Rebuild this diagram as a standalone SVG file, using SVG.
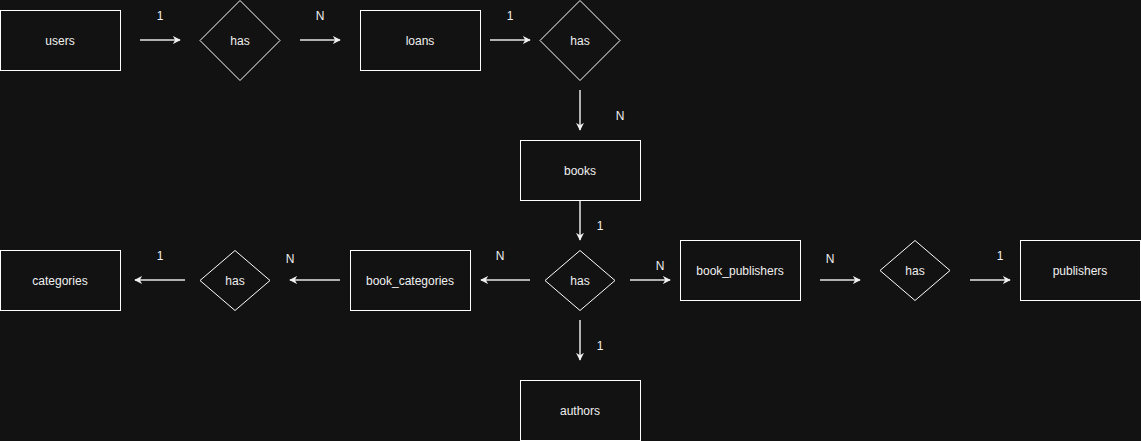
<svg xmlns="http://www.w3.org/2000/svg" width="1141" height="441" viewBox="0 0 1141 441">
<style>
.bg{fill:#121212}
.ent{fill:#121212;stroke:#ffffff;stroke-width:1}
.rel{fill:#121212;stroke:#ffffff;stroke-width:1}
.t{font-family:"Liberation Sans",Arial,sans-serif;font-size:12px;fill:#f0f0f0;text-anchor:middle;dominant-baseline:central}
.c{stroke:#e6e6e6;stroke-width:1.5;fill:none;marker-end:url(#ah)}
</style>
<defs>
<marker id="ah" viewBox="0 0 10 10" refX="9" refY="5" markerWidth="8" markerHeight="8" orient="auto" markerUnits="userSpaceOnUse">
<path d="M0,0 L10,5 L0,10 L3,5 Z" fill="#f0f0f0"/>
</marker>
</defs>
<rect class="bg" x="0" y="0" width="1141" height="441"/>
<g id="connectors">
<line class="c" x1="140" y1="40" x2="180" y2="40"/>
<line class="c" x1="300" y1="40" x2="340" y2="40"/>
<line class="c" x1="490" y1="40" x2="530" y2="40"/>
<line class="c" x1="580" y1="90" x2="580" y2="130"/>
<line class="c" x1="580" y1="200" x2="580" y2="240"/>
<line class="c" x1="530" y1="280" x2="481" y2="280"/>
<line class="c" x1="340" y1="280" x2="290" y2="280"/>
<line class="c" x1="185" y1="280" x2="135" y2="280"/>
<line class="c" x1="630" y1="280" x2="670" y2="280"/>
<line class="c" x1="820" y1="280" x2="860" y2="280"/>
<line class="c" x1="970" y1="280" x2="1010" y2="280"/>
<line class="c" x1="580" y1="320" x2="580" y2="360"/>
<text class="t" x="160" y="16">1</text>
<text class="t" x="320" y="16">N</text>
<text class="t" x="510" y="16">1</text>
<text class="t" x="620" y="116">N</text>
<text class="t" x="600" y="226">1</text>
<text class="t" x="500" y="256">N</text>
<text class="t" x="290" y="259">N</text>
<text class="t" x="160" y="256">1</text>
<text class="t" x="660" y="266">N</text>
<text class="t" x="830" y="259">N</text>
<text class="t" x="1000" y="256">1</text>
<text class="t" x="600" y="346">1</text>
</g>
<g id="users"><rect class="ent" x="0.5" y="10.5" width="120" height="60"/><text class="t" x="60" y="41">users</text></g>
<g id="has1"><polygon class="rel" points="240,0.5 280,40.5 240,80.5 200,40.5"/><text class="t" x="240" y="41">has</text></g>
<g id="loans"><rect class="ent" x="360.5" y="10.5" width="120" height="60"/><text class="t" x="420" y="41">loans</text></g>
<g id="has2"><polygon class="rel" points="580,0.5 620,40.5 580,80.5 540,40.5"/><text class="t" x="580" y="41">has</text></g>
<g id="books"><rect class="ent" x="520.5" y="140.5" width="120" height="60"/><text class="t" x="580" y="171">books</text></g>
<g id="has3"><polygon class="rel" points="580,250.5 615,280.5 580,310.5 545,280.5"/><text class="t" x="580" y="281">has</text></g>
<g id="book_categories"><rect class="ent" x="350.5" y="250.5" width="120" height="60"/><text class="t" x="410" y="281">book_categories</text></g>
<g id="has4"><polygon class="rel" points="235,250.5 270,280.5 235,310.5 200,280.5"/><text class="t" x="235" y="281">has</text></g>
<g id="categories"><rect class="ent" x="0.5" y="250.5" width="120" height="60"/><text class="t" x="60" y="281">categories</text></g>
<g id="book_publishers"><rect class="ent" x="680.5" y="240.5" width="120" height="60"/><text class="t" x="740" y="271">book_publishers</text></g>
<g id="has5"><polygon class="rel" points="915,240.5 950,270.5 915,300.5 880,270.5"/><text class="t" x="915" y="271">has</text></g>
<g id="publishers"><rect class="ent" x="1020.5" y="240.5" width="120" height="60"/><text class="t" x="1080" y="271">publishers</text></g>
<g id="authors"><rect class="ent" x="520.5" y="380.5" width="120" height="60"/><text class="t" x="580" y="411">authors</text></g>
</svg>
